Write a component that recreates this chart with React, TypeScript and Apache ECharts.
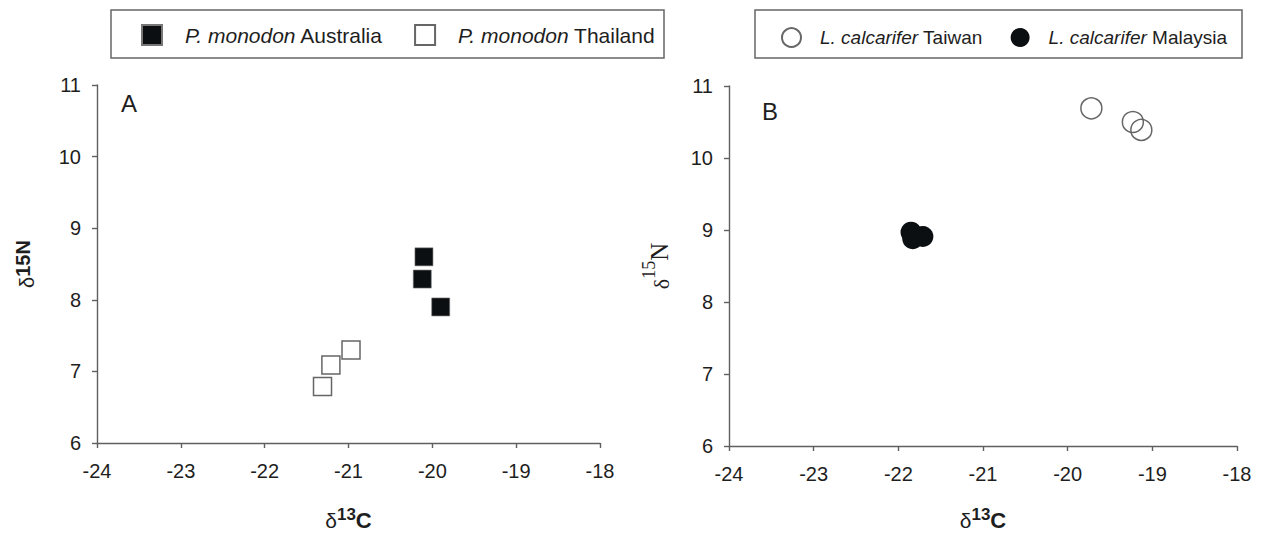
import { useEffect, useRef } from "react";
import * as echarts from "echarts";

// Panel A: P. monodon (δ13C, δ15N)
const ausX = [-20.1, -20.12, -19.9];
const ausY = [8.6, 8.29, 7.9];
const thaiX = [-20.97, -21.21, -21.31];
const thaiY = [7.3, 7.09, 6.79];
// Panel B: L. calcarifer
const taiwanX = [-19.72, -19.23, -19.13];
const taiwanY = [10.69, 10.5, 10.39];
const malayX = [-21.85, -21.71, -21.83];
const malayY = [8.97, 8.91, 8.88];

const xMin = -24, xMax = -18, yMin = 6, yMax = 11;
const seriesNames = [
  "P. monodon Australia",
  "P. monodon Thailand",
  "L. calcarifer Taiwan",
  "L. calcarifer Malaysia",
];

const FONT = "Liberation Sans, Arial, sans-serif";
const SERIF = "Liberation Serif, Times New Roman, serif";
const AXIS_COLOR = "#5f5f5f";
const TEXT_COLOR = "#1e1e1e";

const zip = (xs: number[], ys: number[]) => xs.map((x, i) => [x, ys[i]]);

const legendFormatter = (name: string) => {
  const parts = name.split(" ");
  return `{i|${parts[0]} ${parts[1]}} ${parts.slice(2).join(" ")}`;
};

export default function App() {
  const ref = useRef<HTMLDivElement>(null);
  useEffect(() => {
    if (!ref.current) return;
    const chart = echarts.init(ref.current, undefined, { renderer: "svg" });
    const axisBase = {
      type: "value",
      interval: 1,
      splitLine: { show: false },
      axisLine: { onZero: false, lineStyle: { color: AXIS_COLOR, width: 1.4 } },
      axisTick: { length: 5, lineStyle: { color: AXIS_COLOR, width: 1.4 } },
      nameLocation: "middle",
    };
    const xAxisBase = {
      ...axisBase,
      min: xMin,
      max: xMax,
      axisLabel: { fontSize: 20, color: TEXT_COLOR, fontFamily: FONT, margin: 18 },
    };
    const yAxisBase = {
      ...axisBase,
      min: yMin,
      max: yMax,
      axisLabel: { fontSize: 20, color: TEXT_COLOR, fontFamily: FONT, margin: 16 },
    };
    const xName = "{d|δ}{s|13}{c|C}";
    const xNameStyle = {
      rich: {
        d: { fontSize: 21, lineHeight: 25, fontFamily: FONT, color: TEXT_COLOR, verticalAlign: "bottom" },
        s: { fontSize: 17, lineHeight: 12, fontWeight: "bold", fontFamily: FONT, color: TEXT_COLOR, verticalAlign: "top" },
        c: { fontSize: 22, lineHeight: 25, fontWeight: "bold", fontFamily: FONT, color: TEXT_COLOR, verticalAlign: "bottom" },
      },
    };
    chart.setOption({
      animation: false,
      backgroundColor: "#ffffff",
      grid: [
        { left: 97, top: 85, width: 503, height: 358, outerBoundsMode: "none", containLabel: false },
        { left: 729, top: 86, width: 508, height: 360, outerBoundsMode: "none", containLabel: false },
      ],
      xAxis: [
        { ...xAxisBase, gridIndex: 0, name: xName, nameGap: 63, nameTextStyle: xNameStyle },
        { ...xAxisBase, gridIndex: 1, name: xName, nameGap: 60, nameTextStyle: xNameStyle },
      ],
      yAxis: [
        {
          ...yAxisBase,
          gridIndex: 0,
          name: "{d|δ}{b|15N}",
          nameGap: 60,
          nameTextStyle: {
            rich: {
              d: { fontSize: 20, lineHeight: 24, fontFamily: FONT, color: TEXT_COLOR, verticalAlign: "bottom" },
              b: { fontSize: 20, lineHeight: 20, fontWeight: "bold", fontFamily: FONT, color: TEXT_COLOR, verticalAlign: "top" },
            },
          },
        },
        {
          ...yAxisBase,
          gridIndex: 1,
          name: "{d|δ}{s|15}{n|N}",
          nameGap: 57,
          nameTextStyle: {
            rich: {
              d: { fontSize: 22, lineHeight: 32, fontFamily: SERIF, color: TEXT_COLOR, verticalAlign: "bottom" },
              s: { fontSize: 18, lineHeight: 16, fontFamily: SERIF, color: TEXT_COLOR, verticalAlign: "top" },
              n: { fontSize: 25, lineHeight: 32, fontFamily: SERIF, color: TEXT_COLOR, verticalAlign: "bottom" },
            },
          },
        },
      ],
      legend: [
        {
          data: [seriesNames[0], seriesNames[1]],
          left: 136,
          top: 19,
          itemWidth: 20,
          itemHeight: 20,
          itemGap: 31,
          formatter: legendFormatter,
          selectedMode: false,
          textStyle: {
            fontSize: 21,
            fontFamily: FONT,
            color: TEXT_COLOR,
            rich: {
              i: { fontSize: 21, fontStyle: "italic", fontFamily: FONT, color: TEXT_COLOR, padding: [0, 0, 0, 18] },
            },
          },
        },
        {
          data: [seriesNames[2], seriesNames[3]],
          left: 776,
          top: 22,
          itemWidth: 19,
          itemHeight: 19,
          itemGap: 28,
          formatter: legendFormatter,
          selectedMode: false,
          textStyle: {
            fontSize: 19,
            fontFamily: FONT,
            color: TEXT_COLOR,
            rich: {
              i: { fontSize: 19, fontStyle: "italic", fontFamily: FONT, color: TEXT_COLOR, padding: [0, 0, 0, 14] },
            },
          },
        },
      ],
      graphic: [
        {
          type: "rect",
          shape: { x: 111, y: 10, width: 553, height: 48 },
          style: { fill: "none", stroke: "#666", lineWidth: 1.5 },
          silent: true,
        },
        {
          type: "rect",
          shape: { x: 755, y: 10, width: 487, height: 48 },
          style: { fill: "none", stroke: "#666", lineWidth: 1.5 },
          silent: true,
        },
        {
          type: "text",
          left: 121,
          top: 91,
          style: { text: "A", fontSize: 24, fontFamily: FONT, fill: TEXT_COLOR },
        },
        {
          type: "text",
          left: 762,
          top: 99,
          style: { text: "B", fontSize: 24, fontFamily: FONT, fill: TEXT_COLOR },
        },
      ],
      series: [
        {
          name: seriesNames[0],
          type: "scatter",
          xAxisIndex: 0,
          yAxisIndex: 0,
          symbol: "rect",
          symbolSize: 18,
          itemStyle: { color: "#0b0f12", opacity: 1, borderColor: "#777", borderWidth: 0.6 },
          data: zip(ausX, ausY),
        },
        {
          name: seriesNames[1],
          type: "scatter",
          xAxisIndex: 0,
          yAxisIndex: 0,
          symbol: "rect",
          symbolSize: 18,
          itemStyle: { color: "#ffffff", opacity: 1, borderColor: "#666", borderWidth: 1.5 },
          data: zip(thaiX, thaiY),
        },
        {
          name: seriesNames[2],
          type: "scatter",
          xAxisIndex: 1,
          yAxisIndex: 1,
          symbol: "circle",
          symbolSize: 21,
          itemStyle: { color: "rgba(255,255,255,0)", opacity: 1, borderColor: "#666", borderWidth: 1.5 },
          data: zip(taiwanX, taiwanY),
        },
        {
          name: seriesNames[3],
          type: "scatter",
          xAxisIndex: 1,
          yAxisIndex: 1,
          symbol: "circle",
          symbolSize: 21,
          itemStyle: { color: "#0b0f12", opacity: 1 },
          data: zip(malayX, malayY),
        },
      ],
    });
    return () => chart.dispose();
  }, []);
  return (
    <div
      ref={ref}
      style={{ position: "fixed", left: 0, top: 0, width: 1263, height: 533, background: "#fff" }}
    />
  );
}
